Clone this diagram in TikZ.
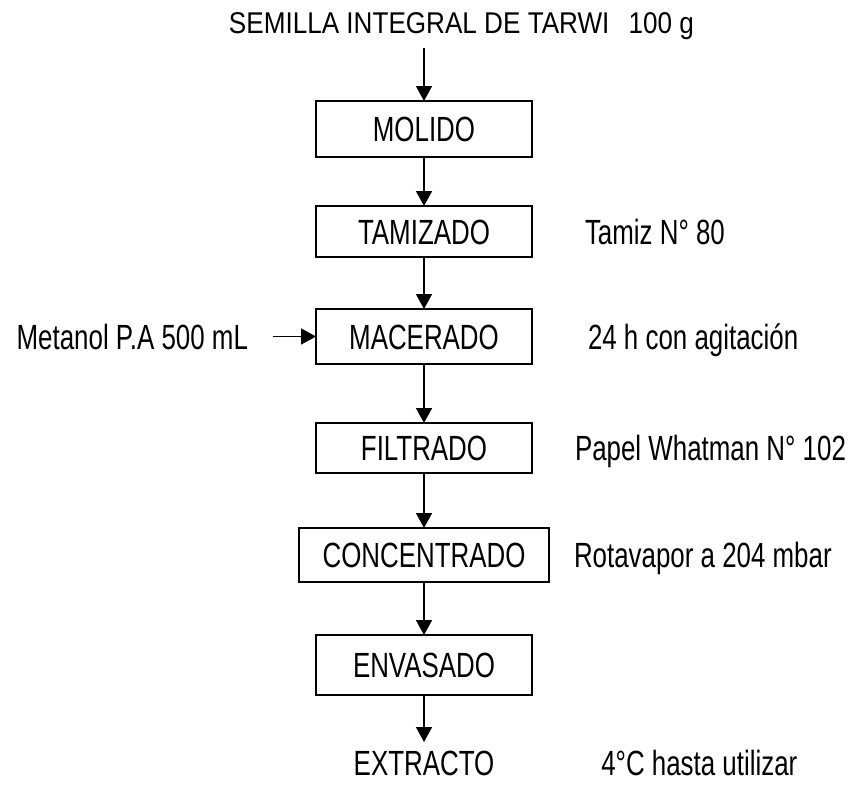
\documentclass[tikz,border=0pt]{standalone}
\usepackage{fontspec}
\usepackage{tikz}
\usetikzlibrary{arrows.meta, positioning, calc}
\newfontfamily\estrecha[FakeStretch=0.74]{Liberation Sans}
\newfontfamily\titular[FakeStretch=0.87]{Liberation Sans}
\tikzset{%
	etapa/.style={draw, rectangle, line width=1.6pt, minimum width=216pt, inner sep=0pt, outer sep=0pt,%
		font=\estrecha\fontsize{35}{40}\selectfont, text height=25pt, text depth=0pt},
	nota/.style={inner sep=0pt, outer sep=0pt, font=\estrecha\fontsize{35}{40}\selectfont,%
		text height=25pt, text depth=0pt},
	flecha/.style={line width=1.6pt, -{Triangle[width=16pt,length=15pt]}}
}
\begin{document}
\begin{tikzpicture}[x=1pt, y=1pt]
		\useasboundingbox (0,0) rectangle (853,-784);
		\node[inner sep=0pt, font=\titular\fontsize{30}{34}\selectfont, text height=21pt, text depth=0pt]
			(titulo) at (461.5,-23) {SEMILLA INTEGRAL DE TARWI\hspace{12pt} 100 g};
		\coordinate (entrada) at (424,-48);
		% etapas del proceso
		\node[etapa, minimum height=56pt] (molido) at (424,-129) {MOLIDO};
		\node[etapa, minimum height=51pt] (tamizado) [below=49pt of molido] {TAMIZADO};
		\node[etapa, minimum height=55pt] (macerado) [below=52pt of tamizado] {MACERADO};
		\node[etapa, minimum height=50pt] (filtrado) [below=59pt of macerado] {FILTRADO};
		\node[etapa, minimum height=54pt, minimum width=250pt] (concentrado) [below=55pt of filtrado] {CONCENTRADO};
		\node[etapa, minimum height=60pt] (envasado) [below=53pt of concentrado] {ENVASADO};
		\node[nota] (extracto) [below=55pt of envasado] {EXTRACTO};
		% condiciones
		\node[nota] (metanol) [left=68pt of macerado] {Metanol P.A 500 mL};
		\node[nota] (tamiz) [right=53pt of tamizado] {Tamiz N\textdegree\ 80};
		\node[nota] (agitacion) [right=56pt of macerado] {24 h con agitación};
		\node[nota] (whatman) [right=43pt of filtrado] {Papel Whatman N\textdegree\ 102};
		\node[nota] (rotavapor) [right=25pt of concentrado] {Rotavapor a 204 mbar};
		\node[nota] (utilizar) [right=107pt of extracto] {4\textdegree C hasta utilizar};
		\draw [flecha] (entrada) -- (molido);
		\draw [flecha] (molido) -- (tamizado);
		\draw [flecha] (tamizado) -- (macerado);
		\draw [flecha] (macerado) -- (filtrado);
		\draw [flecha] (filtrado) -- (concentrado);
		\draw [flecha] (concentrado) -- (envasado);
		\draw [flecha, shorten >=8pt] (envasado) -- (extracto);
		\draw [flecha, shorten <=25pt] (metanol) -- (macerado);
	\end{tikzpicture}
\end{document}
